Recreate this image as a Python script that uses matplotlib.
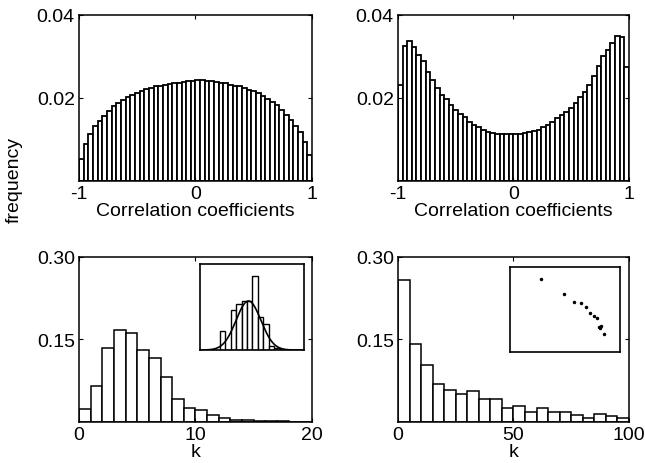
import numpy as np
import matplotlib
matplotlib.use("Agg")
import matplotlib.pyplot as plt

plt.rcParams['font.family'] = ['Liberation Sans', 'DejaVu Sans']
plt.rcParams['font.size'] = 14
plt.rcParams['axes.unicode_minus'] = False

# top-left: correlation coefficients, 50 bins on [-1, 1]
corr_a = [0.0053, 0.0089, 0.0113, 0.0133, 0.0145, 0.0157, 0.0169, 0.0180, 0.0188, 0.0194,
          0.0202, 0.0207, 0.0212, 0.0217, 0.0221, 0.0225, 0.0228, 0.0230, 0.0232, 0.0234,
          0.0235, 0.0237, 0.0238, 0.0240, 0.0242, 0.0243, 0.0244, 0.0240, 0.0242, 0.0238,
          0.0236, 0.0235, 0.0232, 0.0230, 0.0228, 0.0224, 0.0220, 0.0216, 0.0211, 0.0205,
          0.0198, 0.0190, 0.0182, 0.0172, 0.0160, 0.0147, 0.0133, 0.0117, 0.0093, 0.0063]
# top-right
corr_b = [0.0231, 0.0325, 0.0337, 0.0324, 0.0304, 0.0288, 0.0262, 0.0244, 0.0224, 0.0207,
          0.0198, 0.0183, 0.0172, 0.0161, 0.0153, 0.0141, 0.0135, 0.0129, 0.0124, 0.0119,
          0.0116, 0.0114, 0.0113, 0.0112, 0.0112, 0.0112, 0.0113, 0.0116, 0.0119, 0.0121,
          0.0124, 0.0129, 0.0135, 0.0141, 0.0151, 0.0159, 0.0167, 0.0175, 0.0187, 0.0202,
          0.0215, 0.0231, 0.0254, 0.0276, 0.0300, 0.0316, 0.0333, 0.0349, 0.0346, 0.0274]

# bottom-left: degree k, bins of width 1 on [0, 20]
k_a = [0.023, 0.065, 0.134, 0.167, 0.162, 0.131, 0.117, 0.081, 0.042, 0.025,
       0.022, 0.012, 0.007, 0.004, 0.003, 0.002, 0.001, 0.001, 0.0, 0.0]
# bottom-right: bins of width 5 on [0, 100]
k_b = [0.258, 0.141, 0.104, 0.069, 0.058, 0.051, 0.056, 0.041, 0.041, 0.025,
       0.029, 0.018, 0.025, 0.018, 0.018, 0.013, 0.007, 0.015, 0.010, 0.008]

# inset of bottom-left: histogram + gaussian fit (relative units)
ins_hist = [0.22, 0.0, 0.46, 0.54, 0.57, 0.57, 0.86, 0.38, 0.30, 0.05, 0.02]
gauss_mu, gauss_sigma, gauss_amp = 5.27, 2.27, 0.57
# inset of bottom-right: scatter points (relative units)
ins_x = [0.282, 0.488, 0.579, 0.645, 0.691, 0.730, 0.761, 0.788, 0.812, 0.827, 0.818, 0.852]
ins_y = [0.862, 0.685, 0.594, 0.575, 0.535, 0.461, 0.429, 0.402, 0.299, 0.311, 0.287, 0.217]

fig = plt.figure(figsize=(6.45, 4.64), dpi=100)

def style(ax):
    ax.tick_params(direction='in', top=True, right=True, length=3, width=0.8, pad=3)
    for s in ax.spines.values():
        s.set_linewidth(1.1)

def hist(ax, vals, x0, x1, lw=1.1):
    edges = np.linspace(x0, x1, len(vals) + 1)
    ax.bar(edges[:-1], vals, width=edges[1] - edges[0], align='edge',
           facecolor='white', edgecolor='black', linewidth=lw)
    ax.set_xlim(x0, x1)

ax1 = fig.add_axes([0.1225, 0.6078, 0.3612, 0.3578])
hist(ax1, corr_a, -1, 1, lw=1.3)
ax2 = fig.add_axes([0.617, 0.6078, 0.3581, 0.3578])
hist(ax2, corr_b, -1, 1, lw=1.3)
for ax in (ax1, ax2):
    ax.set_ylim(0, 0.04)
    ax.set_xticks([-1, 0, 1])
    ax.set_yticks([0.02, 0.04])
    ax.set_yticklabels(['0.02', '0.04'])
    ax.set_xlabel('Correlation coefficients', labelpad=0)
    style(ax)

ax3 = fig.add_axes([0.1225, 0.0884, 0.3612, 0.3556])
hist(ax3, k_a, 0, 20)
ax3.set_xticks([0, 10, 20])
ax4 = fig.add_axes([0.617, 0.0884, 0.3581, 0.3556])
hist(ax4, k_b, 0, 100)
ax4.set_xticks([0, 50, 100])
for ax in (ax3, ax4):
    ax.set_ylim(0, 0.30)
    ax.set_yticks([0.15, 0.30])
    ax.set_yticklabels(['0.15', '0.30'])
    ax.set_xlabel('k', labelpad=0)
    style(ax)

fig.text(0.022, 0.612, 'frequency', rotation=90, ha='center', va='center')

# insets
in1 = fig.add_axes([0.310, 0.2435, 0.1612, 0.1853])
in1.bar(np.arange(len(ins_hist)), ins_hist, width=1, align='edge',
        facecolor='white', edgecolor='black', linewidth=1.0)
xs = np.linspace(-3.6, 15.4, 300)
in1.plot(xs, gauss_amp * np.exp(-0.5 * ((xs - gauss_mu) / gauss_sigma) ** 2),
         color='black', linewidth=1.2)
in1.set_xlim(-3.6, 15.4)
in1.set_ylim(0, 1)

in2 = fig.add_axes([0.7907, 0.2392, 0.1705, 0.1832])
in2.plot(ins_x, ins_y, 'k.', markersize=3)
in2.set_xlim(0, 1)
in2.set_ylim(0, 1)

for ax in (in1, in2):
    ax.set_xticks([])
    ax.set_yticks([])
    for s in ax.spines.values():
        s.set_linewidth(1.2)

fig.savefig('out.png', dpi=100)
